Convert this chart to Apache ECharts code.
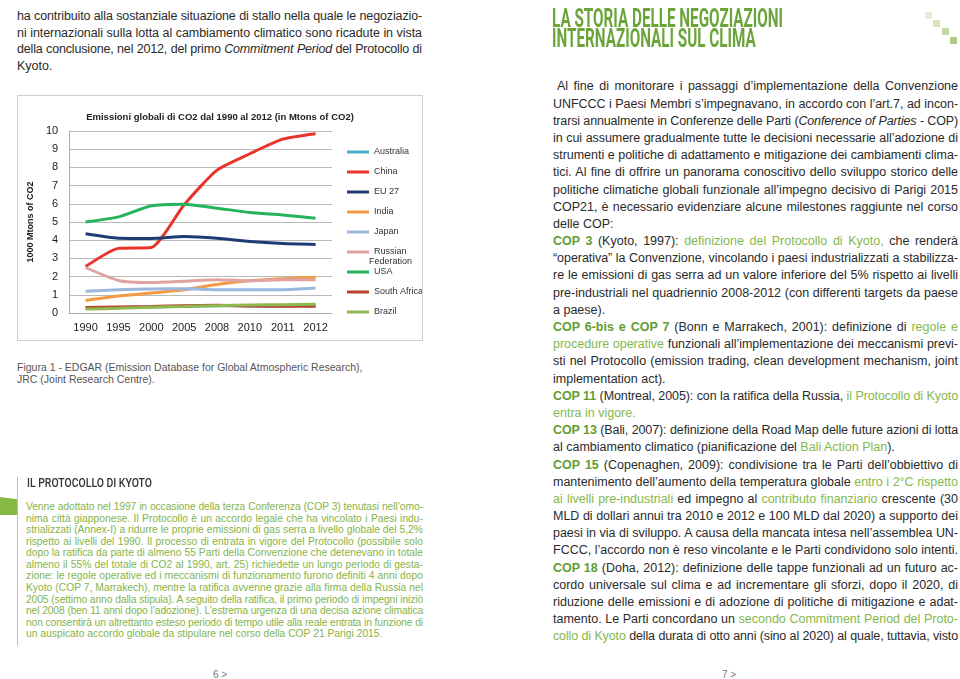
<!DOCTYPE html>
<html><head><meta charset="utf-8">
<script src="https://cdn.jsdelivr.net/npm/echarts@6/dist/echarts.min.js"></script>
<style>
body{margin:0;width:960px;height:679px;position:relative;background:#fff;overflow:hidden;font-family:'Liberation Sans',Arial,Helvetica,sans-serif;color:#2a2a2a}
.blk{position:absolute}
.ln{text-align:justify;text-align-last:justify;white-space:normal}
.ln.l{text-align-last:left}
.b{color:#5f9e2f;font-weight:bold}
.g{color:#84b84d}
#p1{left:17px;top:8px;width:405px;font-size:12.5px;line-height:16.7px}
#p2{left:553px;top:78.4px;width:405px;font-size:12.5px;line-height:17.19px}
#p3{left:26px;top:501.2px;width:397px;font-size:10.3px;line-height:11.55px;color:#86b44a}
#cap{left:17px;top:362px;width:405px;font-size:10.5px;line-height:11.5px;color:#555}
#chartbox{position:absolute;left:17px;top:95px;width:404px;height:244px;border:1px solid #cfcfcf}
#chart{width:404px;height:244px}
.cond{font-family:Roboto,'Liberation Sans',sans-serif;white-space:nowrap;transform-origin:0 0;display:inline-block}
#title{position:absolute;left:552px;top:9px;color:#6ba53a;font-size:25px;line-height:20px;font-weight:bold}
#sec{position:absolute;left:27px;top:477px;font-size:12.5px;line-height:12px;color:#333;font-weight:500}
#vline{position:absolute;left:17px;top:477px;width:1px;height:169px;background:#bdbdbd}
#flag{position:absolute;left:0;top:497px;width:17px;height:18px;background:#86b846;clip-path:polygon(0 0,100% 12%,100% 100%,0 100%)}
.pn{position:absolute;font-size:10px;color:#777;top:669px}
.sq{position:absolute;width:7px;height:7px}
#shadow{position:absolute;left:487px;top:-12px;width:320px;height:36px;background:#fff;box-shadow:0 5px 7px rgba(0,0,0,0.16);-webkit-mask-image:linear-gradient(to right,#000 0%,#000 30%,transparent 100%);mask-image:linear-gradient(to right,#000 0%,#000 30%,transparent 100%)}
</style></head>
<body>
<div id="shadow"></div>
<div class="blk" id="p1">
<div class="ln">ha contribuito alla sostanziale situazione di stallo nella quale le negoziazio-</div>
<div class="ln">ni internazionali sulla lotta al cambiamento climatico sono ricadute in vista</div>
<div class="ln">della conclusione, nel 2012, del primo <i>Commitment Period</i> del Protocollo di</div>
<div class="ln l">Kyoto.</div>
</div>

<div id="chartbox"><div id="chart"></div></div>

<div class="blk" id="cap">
<div class="ln l">Figura 1 - EDGAR (Emission Database for Global Atmospheric Research),</div>
<div class="ln l">JRC (Joint Research Centre).</div>
</div>

<div id="vline"></div>
<div id="flag"></div>
<div id="sec"><span class="cond" data-w="125">IL PROTOCOLLO DI KYOTO</span></div>

<div class="blk" id="p3">
<div class="ln">Venne adottato nel 1997 in occasione della terza Conferenza (COP 3) tenutasi nell’omo-</div>
<div class="ln">nima città giapponese. Il Protocollo è un accordo legale che ha vincolato i Paesi indu-</div>
<div class="ln">strializzati (Annex-I) a ridurre le proprie emissioni di gas serra a livello globale del 5,2%</div>
<div class="ln">rispetto ai livelli del 1990. Il processo di entrata in vigore del Protocollo (possibile solo</div>
<div class="ln">dopo la ratifica da parte di almeno 55 Parti della Convenzione che detenevano in totale</div>
<div class="ln">almeno il 55% del totale di CO2 al 1990, art. 25) richiedette un lungo periodo di gesta-</div>
<div class="ln">zione: le regole operative ed i meccanismi di funzionamento furono definiti 4 anni dopo</div>
<div class="ln">Kyoto (COP 7, Marrakech), mentre la ratifica avvenne grazie alla firma della Russia nel</div>
<div class="ln">2005 (settimo anno dalla stipula). A seguito della ratifica, il primo periodo di impegni iniziò</div>
<div class="ln">nel 2008 (ben 11 anni dopo l’adozione). L’estrema urgenza di una decisa azione climatica</div>
<div class="ln">non consentirà un altrettanto esteso periodo di tempo utile alla reale entrata in funzione di</div>
<div class="ln l">un auspicato accordo globale da stipulare nel corso della COP 21 Parigi 2015.</div>
</div>

<div class="pn" style="left:213px">6 &gt;</div>
<div class="pn" style="left:722px">7 &gt;</div>

<div id="title"><span class="cond" data-w="231">LA STORIA DELLE NEGOZIAZIONI<br>INTERNAZIONALI SUL CLIMA</span></div>

<div class="sq" style="left:925px;top:12px;background:#e6eed8"></div>
<div class="sq" style="left:933px;top:20px;background:#d5e5bd"></div>
<div class="sq" style="left:942px;top:28px;background:#c2d9a2"></div>
<div class="sq" style="left:950px;top:37px;background:#aecb85"></div>

<div class="blk" id="p2">
<div class="ln" style="padding-left:4px">Al fine di monitorare i passaggi d’implementazione della Convenzione</div>
<div class="ln">UNFCCC i Paesi Membri s’impegnavano, in accordo con l’art.7, ad incon-</div>
<div class="ln">trarsi annualmente in Conferenze delle Parti (<i>Conference of Parties</i> - COP)</div>
<div class="ln">in cui assumere gradualmente tutte le decisioni necessarie all’adozione di</div>
<div class="ln">strumenti e politiche di adattamento e mitigazione dei cambiamenti clima-</div>
<div class="ln">tici. Al fine di offrire un panorama conoscitivo dello sviluppo storico delle</div>
<div class="ln">politiche climatiche globali funzionale all’impegno decisivo di Parigi 2015</div>
<div class="ln">COP21, è necessario evidenziare alcune milestones raggiunte nel corso</div>
<div class="ln l">delle COP:</div>
<div class="ln"><span class="b">COP 3</span> (Kyoto, 1997): <span class="g">definizione del Protocollo di Kyoto,</span> che renderà</div>
<div class="ln">“operativa” la Convenzione, vincolando i paesi industrializzati a stabilizza-</div>
<div class="ln">re le emissioni di gas serra ad un valore inferiore del 5% rispetto ai livelli</div>
<div class="ln">pre-industriali nel quadriennio 2008-2012 (con differenti targets da paese</div>
<div class="ln l">a paese).</div>
<div class="ln"><span class="b">COP 6-bis e COP 7</span> (Bonn e Marrakech, 2001): definizione di <span class="g">regole e</span></div>
<div class="ln"><span class="g">procedure operative</span> funzionali all’implementazione dei meccanismi previ-</div>
<div class="ln">sti nel Protocollo (emission trading, clean development mechanism, joint</div>
<div class="ln l">implementation act).</div>
<div class="ln"><span class="b">COP 11</span> (Montreal, 2005): con la ratifica della Russia, <span class="g">il Protocollo di Kyoto</span></div>
<div class="ln l"><span class="g">entra in vigore.</span></div>
<div class="ln"><span class="b">COP 13</span> (Bali, 2007): definizione della Road Map delle future azioni di lotta</div>
<div class="ln l">al cambiamento climatico (pianificazione del <span class="g">Bali Action Plan</span>).</div>
<div class="ln"><span class="b">COP 15</span> (Copenaghen, 2009): condivisione tra le Parti dell’obbiettivo di</div>
<div class="ln">mantenimento dell’aumento della temperatura globale <span class="g">entro i 2°C rispetto</span></div>
<div class="ln"><span class="g">ai livelli pre-industriali</span> ed impegno al <span class="g">contributo finanziario</span> crescente (30</div>
<div class="ln">MLD di dollari annui tra 2010 e 2012 e 100 MLD dal 2020) a supporto dei</div>
<div class="ln">paesi in via di sviluppo. A causa della mancata intesa nell’assemblea UN-</div>
<div class="ln">FCCC, l’accordo non è reso vincolante e le Parti condividono solo intenti.</div>
<div class="ln"><span class="b">COP 18</span> (Doha, 2012): definizione delle tappe funzionali ad un futuro ac-</div>
<div class="ln">cordo universale sul clima e ad incrementare gli sforzi, dopo il 2020, di</div>
<div class="ln">riduzione delle emissioni e di adozione di politiche di mitigazione e adat-</div>
<div class="ln">tamento. Le Parti concordano un <span class="g">secondo Commitment Period del Proto-</span></div>
<div class="ln"><span class="g">collo di Kyoto</span> della durata di otto anni (sino al 2020) al quale, tuttavia, visto</div>
</div>

<script>
// ---- chart data ----
const years = ['1990', '1995', '2000', '2005', '2008', '2010', '2011', '2012'];
const seriesNames = ['Australia', 'China', 'EU 27', 'India', 'Japan', 'Russian Federation', 'USA', 'South Africa', 'Brazil'];
const australia   = [0.28, 0.30, 0.33, 0.37, 0.40, 0.39, 0.39, 0.40];
const china       = [2.55, 3.55, 3.60, 5.95, 7.85, 8.75, 9.55, 9.85];
const eu27        = [4.35, 4.11, 4.10, 4.20, 4.11, 3.93, 3.82, 3.77];
const india       = [0.69, 0.93, 1.10, 1.28, 1.57, 1.77, 1.88, 1.97];
const japan       = [1.19, 1.28, 1.32, 1.33, 1.28, 1.28, 1.28, 1.37];
const russia      = [2.50, 1.79, 1.68, 1.75, 1.83, 1.77, 1.83, 1.83];
const usa         = [5.00, 5.28, 5.89, 5.98, 5.76, 5.52, 5.39, 5.21];
const southAfrica = [0.30, 0.33, 0.36, 0.40, 0.42, 0.38, 0.37, 0.37];
const brazil      = [0.22, 0.26, 0.32, 0.36, 0.40, 0.44, 0.46, 0.48];
const yTicks = [0, 1, 2, 3, 4, 5, 6, 7, 8, 9, 10];

const allData = [australia, china, eu27, india, japan, russia, usa, southAfrica, brazil];
const colors = ['#4bacc6', '#e8352b', '#1f3b73', '#f39a45', '#9bb7de', '#e0a3a1', '#25b35c', '#b8432f', '#8fb84f'];

const chart = echarts.init(document.getElementById('chart'));
const FF = 'Liberation Sans, Arial, sans-serif';
const axisFont = {fontFamily: FF, fontSize: 11, color: '#222'};
chart.setOption({
  animation: false,
  color: colors,
  title: {
    text: 'Emissioni globali di CO2 dal 1990 al 2012 (in Mtons of CO2)',
    left: 'center', top: 11,
    textStyle: {fontFamily: FF, fontSize: 9.5, fontWeight: 'bold', color: '#222'}
  },
  grid: {left: 41, top: 35, width: 273, height: 182, containLabel: false},
  legend: {
    orient: 'vertical', left: 324, top: 45,
    itemWidth: 22, itemHeight: 3, itemGap: 8, icon: 'rect',
    data: seriesNames,
    formatter: n => n === 'Russian Federation' ? 'Russian' : n,
    textStyle: {fontFamily: FF, fontSize: 9, lineHeight: 12, color: '#333'}
  },
  graphic: [{
    type: 'text', x: 351, y: 166,
    style: {text: 'Federation', fontFamily: FF, fontSize: 9, fill: '#333', verticalAlign: 'middle', align: 'left'}
  }],
  xAxis: {
    type: 'category', data: years, boundaryGap: true,
    axisLine: {show: true, lineStyle: {color: '#b0b0b0', width: 1}},
    axisTick: {show: false},
    axisLabel: Object.assign({margin: 9}, axisFont),
    splitLine: {show: false}
  },
  yAxis: {
    type: 'value', min: yTicks[0], max: yTicks[yTicks.length - 1], interval: 1,
    name: '1000 Mtons of CO2', nameLocation: 'middle', nameGap: 25, nameRotate: 90,
    nameTextStyle: {fontFamily: FF, fontSize: 9, fontWeight: 'bold', color: '#222'},
    axisLine: {show: true, lineStyle: {color: '#b0b0b0', width: 1}},
    axisTick: {show: false},
    axisLabel: Object.assign({margin: 11}, axisFont),
    splitLine: {show: true, lineStyle: {color: '#b9b9b9', width: 1}}
  },
  series: seriesNames.map((n, i) => ({
    name: n, type: 'line', data: allData[i], smooth: 0.2,
    showSymbol: false, symbol: 'none',
    lineStyle: {width: 3, color: colors[i]},
    itemStyle: {color: colors[i]},
    z: 2 + i
  }))
});

// ---- text layout helpers ----
function fitLines() {
  document.querySelectorAll('.ln').forEach(el => {
    const c = el.cloneNode(true);
    c.style.position = 'absolute'; c.style.visibility = 'hidden';
    c.style.whiteSpace = 'nowrap'; c.style.width = 'auto'; c.style.display = 'inline-block';
    c.style.left = '-3000px'; c.style.top = '0';
    el.parentNode.appendChild(c);
    const w = c.getBoundingClientRect().width;
    c.remove();
    const target = el.clientWidth;
    if (w > target - 0.5) {
      const n = el.textContent.length;
      el.style.letterSpacing = ((target - w - 1.5) / n) + 'px';
    }
  });
}
function fitTitles() {
  document.querySelectorAll('.cond[data-w]').forEach(el => {
    const w = el.getBoundingClientRect().width;
    const s = parseFloat(el.dataset.w) / w;
    el.style.transform = 'scaleX(' + s + ')';
  });
}
fitLines();
fitTitles();
</script>
</body></html>
